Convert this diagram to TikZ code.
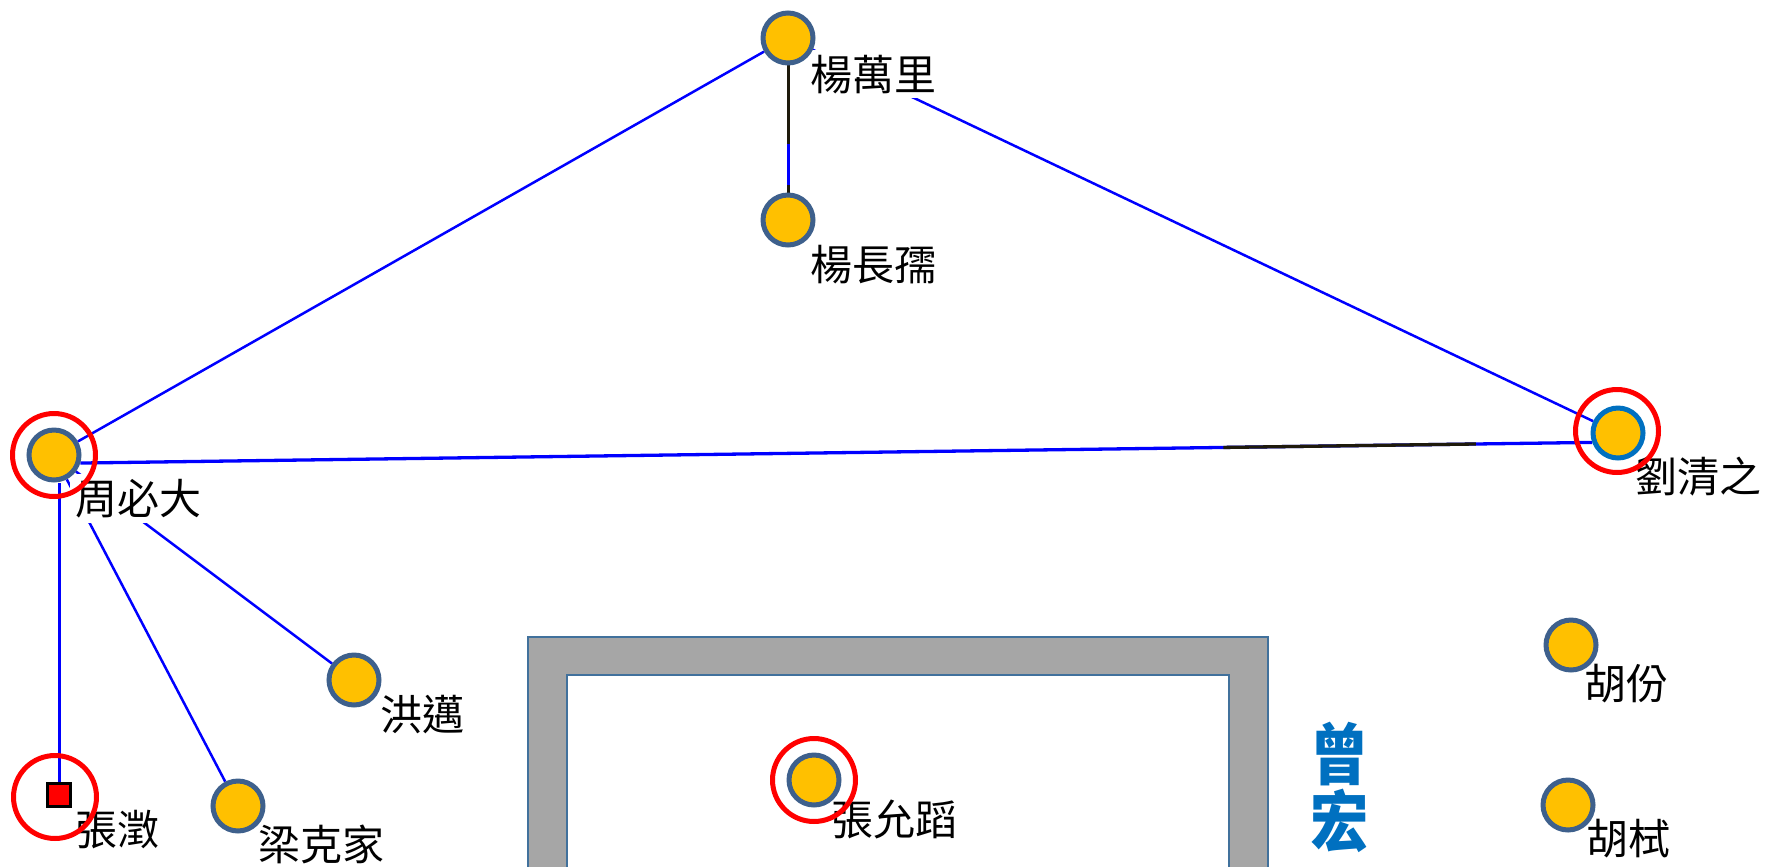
\documentclass[tikz,border=0pt]{standalone}
\usepackage{fontspec}
\newfontfamily\cjk{Noto Sans CJK TC}
\usetikzlibrary{calc}
\definecolor{nodefill}{HTML}{FFC000}
\definecolor{ringblue}{RGB}{62,96,140}
\definecolor{liublue}{HTML}{0070C0}
\definecolor{linkblue}{HTML}{0000FF}
\definecolor{linkdark}{HTML}{1E1A0C}
\definecolor{framegray}{HTML}{A6A6A6}
\definecolor{frameedge}{HTML}{41719C}
\definecolor{zengblue}{HTML}{0070C0}
\pgfdeclarelayer{framelayer}
\pgfdeclarelayer{linelayer}
\pgfdeclarelayer{labellayer}
\pgfdeclarelayer{ringlayer}
\pgfsetlayers{framelayer,linelayer,labellayer,main,ringlayer}
\tikzset{
  person/.style={circle, minimum size=1.0cm, inner sep=0pt, line width=0.1cm, draw=ringblue, fill=nodefill},
  squarenode/.style={rectangle, minimum size=0.46cm, inner sep=0pt, line width=0.06cm, draw=black, fill=red},
  redring/.style={circle, minimum size=1.66cm, inner sep=0pt, line width=0.1cm, draw=red},
  lab/.style={fill=white, inner sep=0.1cm, anchor=base west, text=black, font=\cjk\fontsize{23.9pt}{28pt}\selectfont},
  link/.style={draw=linkblue, line width=0.05cm},
  mainlink/.style={draw=linkblue, line width=0.066cm},
  darkpart/.style={draw=linkdark, line width=0.066cm},
  zengchar/.style={anchor=base, inner sep=0pt, text=zengblue, font=\cjk\bfseries\fontsize{35pt}{40pt}\selectfont},
  frameouter/.style={fill=framegray, draw=frameedge, line width=0.04cm},
  frameinner/.style={fill=white, draw=frameedge, line width=0.04cm}
}
\begin{document}
\begin{tikzpicture}[x=0.02cm, y=-0.02cm]
\useasboundingbox (0,0) rectangle (1767,866);
% frame
\begin{pgfonlayer}{framelayer}
\path[frameouter] (528,637) rectangle (1268,920);
\path[frameinner] (567,675) rectangle (1229,920);
\end{pgfonlayer}
% people
\node[person] (yangwl) at (788,38) {};
\node[person] (yangcr) at (788,220) {};
\node[person] (zhou) at (54,455) {};
\node[person, draw=liublue] (liu) at (1618,433) {};
\node[person] (hong) at (354,680) {};
\node[person] (liang) at (238,806) {};
\node[squarenode] (zc) at (59,795) {};
\node[person] (zyd) at (814,780) {};
\node[person] (hufen) at (1571,645) {};
\node[person] (hushi) at (1568,805) {};
% links
\begin{pgfonlayer}{linelayer}
\draw[link] (zhou) -- (yangwl);
\draw[link] (yangwl) -- (liu);
\draw[darkpart, line width=0.06cm] (yangwl) -- (yangcr);
\draw[link, line width=0.06cm] ($(yangwl)!0.58!(yangcr)$) -- ($(yangwl)!0.81!(yangcr)$);
\draw[mainlink] (zhou.-17) -- (liu.-160);
\draw[darkpart] ($(zhou.-17)!0.756!(liu.-160)$) -- ($(zhou.-17)!0.923!(liu.-160)$);
\draw[link, line width=0.06cm] (zc.north) -- (zc.north |- zhou.south);
\draw[link] (zhou) -- (hong);
\draw[link] (zhou) -- (liang);
\end{pgfonlayer}
% labels
\begin{pgfonlayer}{labellayer}
\node[lab] (lyangwl) at (805,90) {楊萬里};
\node[lab] (lyangcr) at (805,280) {楊長孺};
\node[lab] (lzhou) at (70,514) {周必大};
\node[lab] (lliu) at (1630,492) {劉清之};
\node[lab] (lhong) at (375,730) {洪邁};
\node[lab] (lliang) at (253,860) {梁克家};
\node[lab] (lzc) at (70,845) {張澂};
\node[lab] (lzyd) at (826,835) {張允蹈};
\node[lab] (lhufen) at (1579,699) {胡份};
\node[lab] (lhushi) at (1581,854) {胡栻};
\end{pgfonlayer}
% vertical name
\node[zengchar] (zeng1) at (1340,779) {\scalebox{0.95}[1.08]{曾}};
\node[zengchar] (zeng2) at (1340,846) {\scalebox{0.95}[1.08]{宏}};
% red rings
\begin{pgfonlayer}{ringlayer}
\node[redring] (rzhou) at (zhou) {};
\node[redring] (rzc) at (55,797) {};
\node[redring] (rzyd) at (zyd) {};
\node[redring] (rliu) at (1617,431) {};
\end{pgfonlayer}
\end{tikzpicture}
\end{document}
